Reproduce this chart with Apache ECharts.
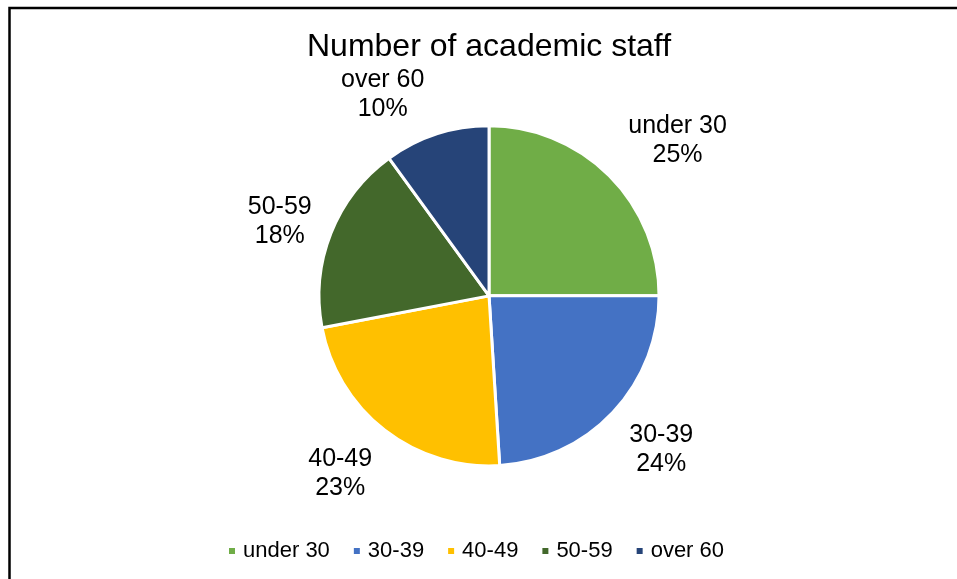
<!DOCTYPE html>
<html>
<head>
<meta charset="utf-8">
<script src="https://cdn.jsdelivr.net/npm/echarts@6/dist/echarts.min.js"></script>
<style>
  html, body { margin: 0; padding: 0; background: #fff; }
  #chart { width: 957px; height: 579px; }
</style>
</head>
<body>
<div id="chart"></div>
<script>
// Age groups of academic staff and their share (%)
const categories = ['under 30', '30-39', '40-49', '50-59', 'over 60'];
const shares = [25, 24, 23, 18, 10];
const colors = ['#70AD47', '#4472C4', '#FFC000', '#43682B', '#264478'];

// Where each slice label sits: angle clockwise from 12 o'clock (deg) and distance from the pie centre (px)
const labelAngle = [50.6, 131.8, 219.9, 289.5, 332.2];
const labelDist = [244, 231, 232, 222, 228];

const FONT = "'Liberation Sans', Arial, Helvetica, sans-serif";
const chart = echarts.init(document.getElementById('chart'), null, { renderer: 'canvas' });

const centerPct = [0.511, 0.511];

chart.setOption({
  backgroundColor: '#ffffff',
  animation: false,
  title: {
    text: 'Number of academic staff',
    left: 302,
    top: 26,
    textStyle: { fontFamily: FONT, fontSize: 32, fontWeight: 'normal', color: '#000' }
  },
  legend: {
    data: categories,
    left: 222,
    top: 535,
    icon: 'rect',
    itemWidth: 8,
    itemHeight: 8,
    itemGap: 22,
    textStyle: { fontFamily: FONT, fontSize: 22, color: '#000', padding: [0, 0, 0, 2] }
  },
  graphic: [{
    type: 'polyline',
    shape: { points: [[9.5, 2000], [9.5, 8], [2000, 8]] },
    style: { stroke: '#000', lineWidth: 2.5, fill: null },
    silent: true
  }],
  series: [{
    type: 'pie',
    center: [(centerPct[0] * 100) + '%', (centerPct[1] * 100) + '%'],
    radius: 170,
    startAngle: 90,
    clockwise: true,
    avoidLabelOverlap: false,
    itemStyle: { borderColor: '#fff', borderWidth: 3 },
    label: {
      show: true,
      position: 'outside',
      formatter: '{b}\n{c}%',
      fontFamily: FONT,
      fontSize: 25,
      lineHeight: 29,
      color: '#000',
      align: 'center'
    },
    labelLine: { show: false },
    labelLayout: function (params) {
      const i = params.dataIndex;
      const cx = chart.getWidth() * centerPct[0];
      const cy = chart.getHeight() * centerPct[1];
      const a = labelAngle[i] * Math.PI / 180;
      return {
        x: cx + labelDist[i] * Math.sin(a),
        y: cy - labelDist[i] * Math.cos(a),
        align: 'center',
        verticalAlign: 'middle'
      };
    },
    data: categories.map((name, i) => ({
      name: name,
      value: shares[i],
      itemStyle: { color: colors[i] }
    }))
  }]
});
</script>
</body>
</html>
